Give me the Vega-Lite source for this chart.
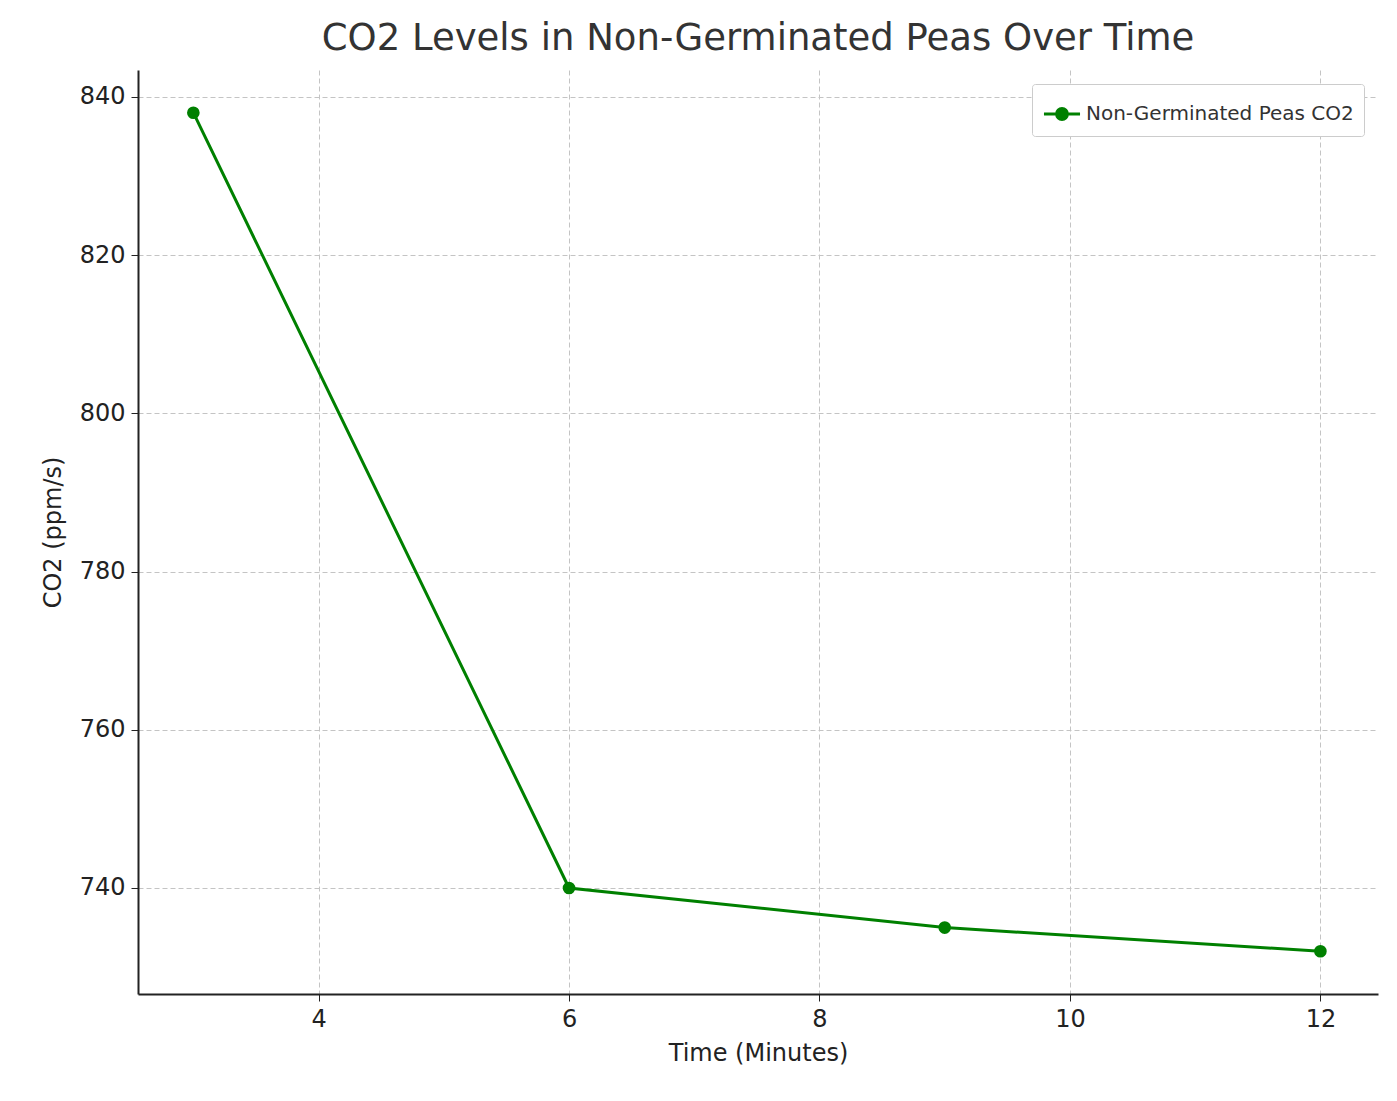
{
"$schema":"https://vega.github.io/schema/vega-lite/v6.json",
"width":1240,"height":924,
"autosize":{"type":"none"},
"padding":{"left":138,"top":70,"right":19,"bottom":107},
"title":{"text":"CO2 Levels in Non-Germinated Peas Over Time","fontSize":37,"font":"DejaVu Sans","fontWeight":"normal","color":"#333333","offset":12},
"config":{"view":{"stroke":null},"font":"DejaVu Sans"},
"data":{"values":[
{"t":3,"co2":838,"s":"Non-Germinated Peas CO2"},
{"t":6,"co2":740,"s":"Non-Germinated Peas CO2"},
{"t":9,"co2":735,"s":"Non-Germinated Peas CO2"},
{"t":12,"co2":732,"s":"Non-Germinated Peas CO2"}]},
"mark":{"type":"line","point":{"size":160,"filled":true,"opacity":1},"strokeWidth":3},
"encoding":{
"x":{"field":"t","type":"quantitative","scale":{"domain":[2.558,12.46],"nice":false,"zero":false},
"axis":{"title":"Time (Minutes)","values":[4,6,8,10,12],"labelFontSize":24,"titleFontSize":24,"titleFontWeight":"normal","labelColor":"#222","titleColor":"#222","domainColor":"#222","domainWidth":2,"tickColor":"#222","tickSize":7,"gridDash":[5,3],"gridColor":"#c4c4c4","labelPadding":6,"titlePadding":10}},
"y":{"field":"co2","type":"quantitative","scale":{"domain":[726.6,843.4],"nice":false,"zero":false},
"axis":{"title":"CO2 (ppm/s)","values":[740,760,780,800,820,840],"labelFontSize":24,"titleFontSize":24,"titleFontWeight":"normal","labelColor":"#222","titleColor":"#222","domainColor":"#222","domainWidth":2,"tickColor":"#222","tickSize":7,"gridDash":[5,3],"gridColor":"#c4c4c4","labelPadding":6,"titlePadding":14}},
"color":{"field":"s","type":"nominal","scale":{"range":["#008000"]},
"legend":{"title":null,"orient":"top-right","labelFontSize":20,"labelColor":"#333","strokeColor":"#cccccc","fillColor":"white","padding":10,"cornerRadius":3,"symbolType":"M-1,0H1M-0.3,0A0.3,0.3 0 1,1 0.3,0A0.3,0.3 0 1,1 -0.3,0Z","symbolSize":1300,"symbolStrokeWidth":3,"symbolFillColor":"#008000","symbolStrokeColor":"#008000","offset":14,"labelLimit":400}}
}
}
